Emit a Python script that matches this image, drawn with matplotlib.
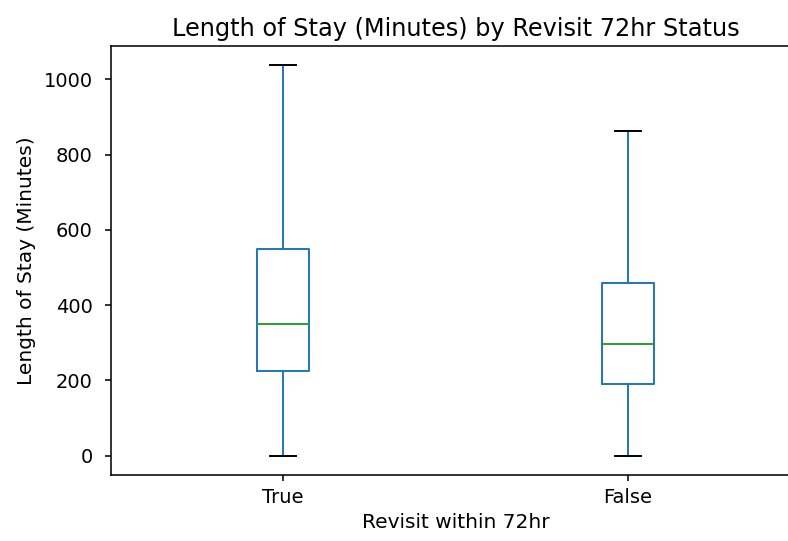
import matplotlib
matplotlib.use("Agg")
import matplotlib.pyplot as plt

# Box statistics (minutes)
groups = ["True", "False"]
whisker_low = [0, 0]
q1 = [226, 190]
median = [349, 296]
q3 = [549, 460]
whisker_high = [1037, 863]

scale = 1.4  # reference was rendered at roughly 140 dpi

stats = []
for name, lo, a, m, b, hi in zip(groups, whisker_low, q1, median, q3, whisker_high):
    stats.append(dict(label=name, whislo=lo, q1=a, med=m, q3=b, whishi=hi, fliers=[]))

fig = plt.figure(figsize=(7.88, 5.41), dpi=100)
# the reference is cropped on the right, so the axes runs past the figure edge
ax = fig.add_axes([111 / 788, 1 - 475 / 541, 689 / 788, (475 - 46) / 541])

lw = 1.0 * scale
ax.bxp(stats, positions=[1, 2], widths=0.15, showfliers=False,
       boxprops=dict(color="#1f77b4", linewidth=lw),
       whiskerprops=dict(color="#1f77b4", linewidth=lw),
       capprops=dict(color="k", linewidth=lw),
       medianprops=dict(color="#2ca02c", linewidth=lw))

ax.set_title("Length of Stay (Minutes) by Revisit 72hr Status", fontsize=17.3, pad=7)
ax.set_xlabel("Revisit within 72hr", fontsize=14.5, labelpad=3 * scale)
ax.set_ylabel("Length of Stay (Minutes)", fontsize=14.5, labelpad=4 * scale)
ax.tick_params(labelsize=10 * scale, width=0.8 * scale, length=4.3)
ax.tick_params(axis="y", pad=9)
ax.tick_params(axis="x", pad=5)
for s in ax.spines.values():
    s.set_linewidth(0.8 * scale)
ax.set_yticks([0, 200, 400, 600, 800, 1000])

fig.savefig("out.png", dpi=100)
